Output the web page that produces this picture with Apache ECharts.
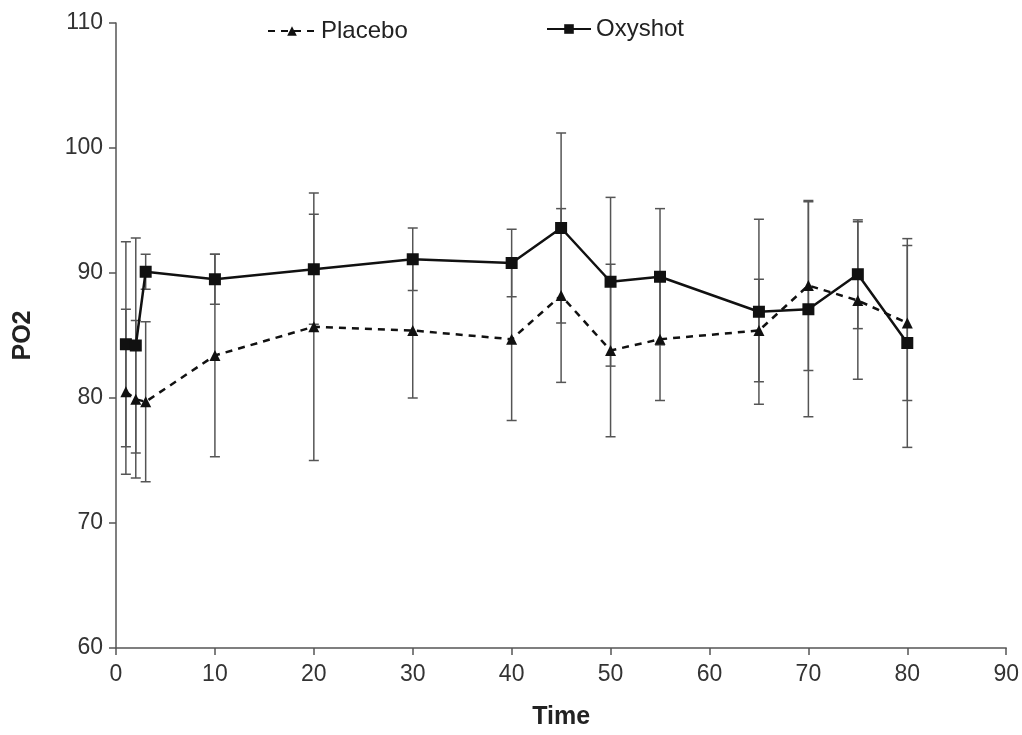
<!DOCTYPE html>
<html>
<head>
<meta charset="utf-8">
<script src="https://cdn.jsdelivr.net/npm/echarts@6/dist/echarts.min.js"></script>
<style>html,body{margin:0;padding:0;background:#fff}#c{width:1022px;height:735px}</style>
</head>
<body>
<div id="c"></div>
<script>
const times = [1, 2, 3, 10, 20, 30, 40, 45, 50, 55, 65, 70, 75, 80];
const placebo = [80.5, 79.9, 79.7, 83.4, 85.7, 85.4, 84.7, 88.2, 83.8, 84.7, 85.4, 89.0, 87.8, 86.0];
const placeboSD = [6.6, 6.3, 6.4, 8.1, 10.7, 5.4, 6.5, 6.95, 6.9, 4.9, 4.1, 6.8, 6.3, 6.2];
const oxyshot = [84.3, 84.2, 90.1, 89.5, 90.3, 91.1, 90.8, 93.6, 89.3, 89.7, 86.9, 87.1, 89.9, 84.4];
const oxyshotSD = [8.2, 8.6, 1.4, 2.0, 4.4, 2.5, 2.7, 7.6, 6.75, 5.45, 7.4, 8.6, 4.35, 8.35];
const xTicks = [0, 10, 20, 30, 40, 50, 60, 70, 80, 90];
const yTicks = [60, 70, 80, 90, 100, 110];

const FONT = '"Liberation Sans", Arial, Helvetica, sans-serif';
const chart = echarts.init(document.getElementById('c'));

function errData(vals, sds) {
  return times.map((t, i) => [t, vals[i] - sds[i], vals[i] + sds[i]]);
}
function errRender(params, api) {
  const x = api.value(0);
  const lo = api.coord([x, api.value(1)]);
  const hi = api.coord([x, api.value(2)]);
  const w = 5;
  const style = { stroke: '#555', lineWidth: 1.5, fill: null };
  return {
    type: 'group',
    children: [
      { type: 'line', shape: { x1: lo[0], y1: lo[1], x2: hi[0], y2: hi[1] }, style },
      { type: 'line', shape: { x1: lo[0] - w, y1: lo[1], x2: lo[0] + w, y2: lo[1] }, style },
      { type: 'line', shape: { x1: hi[0] - w, y1: hi[1], x2: hi[0] + w, y2: hi[1] }, style }
    ]
  };
}

chart.setOption({
  animation: false,
  backgroundColor: '#fff',
  textStyle: { fontFamily: FONT },
  grid: { left: 116, right: 15, top: 23, bottom: 85, containLabel: false },
  legend: [
    {
      data: ['Placebo'], left: 262, top: 14, itemWidth: 48, itemHeight: 12, itemGap: 6,
      textStyle: { fontSize: 24, color: '#222', fontFamily: FONT }
    },
    {
      data: ['Oxyshot'], left: 541, top: 12, itemWidth: 44, itemHeight: 12, itemGap: 6,
      textStyle: { fontSize: 24, color: '#222', fontFamily: FONT }
    }
  ],
  xAxis: {
    type: 'value', min: xTicks[0], max: xTicks[xTicks.length - 1], interval: 10,
    name: 'Time', nameLocation: 'middle', nameGap: 57,
    nameTextStyle: { fontSize: 25, fontWeight: 'bold', color: '#222', fontFamily: FONT, verticalAlign: 'top' },
    axisLine: { lineStyle: { color: '#555', width: 1.5 } },
    axisTick: { show: true, length: 7, lineStyle: { color: '#555', width: 1.5 } },
    axisLabel: { fontSize: 23, color: '#333', margin: 15, fontFamily: FONT },
    splitLine: { show: false }
  },
  yAxis: {
    type: 'value', min: yTicks[0], max: yTicks[yTicks.length - 1], interval: 10,
    name: 'PO2', nameLocation: 'middle', nameGap: 80, nameRotate: 90,
    nameTextStyle: { fontSize: 25, fontWeight: 'bold', color: '#222', fontFamily: FONT },
    axisLine: { show: true, lineStyle: { color: '#555', width: 1.5 } },
    axisTick: { show: true, length: 7, lineStyle: { color: '#555', width: 1.5 } },
    axisLabel: { fontSize: 23, color: '#333', margin: 13, fontFamily: FONT },
    splitLine: { show: false }
  },
  series: [
    { type: 'custom', name: 'placeboErr', data: errData(placebo, placeboSD), renderItem: errRender, z: 1, silent: true, encode: { x: 0, y: [1, 2] } },
    { type: 'custom', name: 'oxyErr', data: errData(oxyshot, oxyshotSD), renderItem: errRender, z: 1, silent: true, encode: { x: 0, y: [1, 2] } },
    {
      type: 'line', name: 'Placebo', data: times.map((t, i) => [t, placebo[i]]), z: 3,
      symbol: 'triangle', symbolSize: 11,
      lineStyle: { color: '#111', width: 2.5, type: [7, 6] },
      itemStyle: { color: '#111' }
    },
    {
      type: 'line', name: 'Oxyshot', data: times.map((t, i) => [t, oxyshot[i]]), z: 4,
      symbol: 'rect', symbolSize: 12,
      lineStyle: { color: '#111', width: 2.5 },
      itemStyle: { color: '#111' }
    }
  ]
});
</script>
</body>
</html>
